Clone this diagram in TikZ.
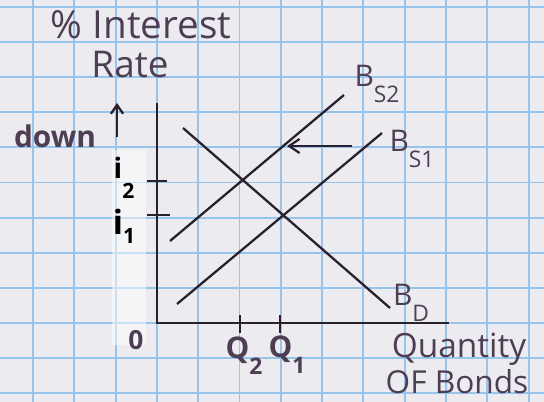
\documentclass[tikz,border=0pt]{standalone}
\usepackage{fontspec}
\setmainfont{Open Sans}
\usetikzlibrary{arrows.meta}
\definecolor{paper}{RGB}{236,236,240}
\definecolor{gridblue}{RGB}{150,196,234}
\definecolor{ink}{RGB}{42,32,46}
\definecolor{pen}{RGB}{78,62,84}

\begin{document}
\begin{tikzpicture}[x=0.02cm, y=-0.02cm,
    gridline/.style={gridblue, line width=1.1pt},
    axis/.style={ink, line width=1.4pt},
    curve/.style={ink, line width=1.3pt},
    tick/.style={ink, line width=1.3pt},
    hand/.style={text=pen, font=\fontsize{17}{20}\selectfont, inner sep=0pt},
    bold/.style={text=black, font=\fontsize{16}{18}\selectfont\bfseries, inner sep=0pt}]
  \fill[paper] (0,0) rectangle (544,402);
  \useasboundingbox (0,0) rectangle (544,402);
  % squared paper
  \foreach \k in {0,...,12}
    \draw[gridline] ({33+41.3*\k},0) -- ({33+41.3*\k},402);
  \foreach \k in {0,...,11}
    \draw[gridline] (0,{7+35.1*\k}) -- (544,{7+35.1*\k});
  \fill[white, opacity=0.5] (112,150) rectangle (146,345);
  % axes
  \coordinate (ytop) at (157,103);
  \coordinate (O) at (157,323);
  \coordinate (xend) at (449,323);
  \draw[axis] (ytop) -- (O) -- (xend);
  % curves
  \coordinate (bd1) at (183,128);
  \coordinate (bd2) at (390,308);
  \coordinate (bsa1) at (177,304);
  \coordinate (bsb1) at (382,133);
  \coordinate (bsa2) at (170,241);
  \coordinate (bsb2) at (344,95);
  \draw[curve] (bd1) -- (bd2);
  \draw[curve] (bsa1) -- (bsb1);
  \draw[curve] (bsa2) -- (bsb2);
  % ticks
  \draw[tick] (147,181) -- (167,181);
  \draw[tick] (147,215) -- (170,215);
  \draw[tick] (240,315) -- (240,333);
  \draw[tick] (280,315) -- (280,333);
  % shift of supply
  \coordinate (sh1) at (352,146);
  \coordinate (sh2) at (287,146);
  \draw[curve, -{Straight Barb[length=6pt, width=8pt]}] (sh1) -- (sh2);
  % labels
  \node[hand, font=\fontsize{22}{25}\selectfont] (title) at (141,25) {\% Interest};
  \node[hand, font=\fontsize{21}{24}\selectfont] (rate) at (130,65) {Rate};
  \node[hand, font=\fontsize{17}{20}\selectfont\bfseries] (down) at (55,136) {down};
  \coordinate (up1) at (117,137);
  \coordinate (up2) at (117,103);
  \draw[curve, -{Straight Barb[length=5pt, width=7pt]}] (up1) -- (up2);
  \node[bold] (i2) at (124,178) {i\raisebox{-1.3ex}{\fontsize{12}{14}\selectfont 2}};
  \node[bold, font=\fontsize{19}{20}\selectfont\bfseries] (i1) at (124,226) {i\raisebox{-0.5ex}{\fontsize{12}{14}\selectfont 1}};
  \node[hand, font=\fontsize{15}{18}\selectfont\bfseries] (zero) at (136,340) {0};
  \node[hand, font=\fontsize{17}{20}\selectfont\bfseries] (q2) at (244,356) {Q\raisebox{-1ex}{\fontsize{13}{15}\selectfont 2}};
  \node[hand, font=\fontsize{17}{20}\selectfont\bfseries] (q1) at (287,355) {Q\raisebox{-1ex}{\fontsize{13}{15}\selectfont 1}};
  \node[hand] (lbs2) at (377,84) {B\raisebox{-1ex}{\fontsize{13}{15}\selectfont S2}};
  \node[hand] (lbs1) at (412,149) {B\raisebox{-1ex}{\fontsize{13}{15}\selectfont S1}};
  \node[hand] (lbd) at (411,303) {B\raisebox{-1ex}{\fontsize{13}{15}\selectfont D}};
  \node[hand, font=\fontsize{19}{22}\selectfont] (qty) at (459,349) {Quantity};
  \node[hand, font=\fontsize{18}{21}\selectfont] (bonds) at (457,382) {OF Bonds};
\end{tikzpicture}
\end{document}
